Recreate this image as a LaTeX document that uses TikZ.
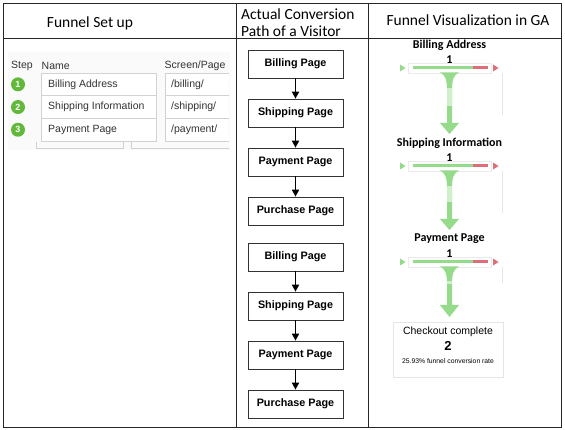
\documentclass[tikz,border=0pt]{standalone}
\usepackage{fontspec}
\setmainfont{Carlito}
\newfontfamily\rob{Liberation Sans}
\usetikzlibrary{arrows.meta}
\definecolor{fgreen}{HTML}{96DA8C}
\definecolor{flight}{HTML}{CFEFCA}
\definecolor{fred}{HTML}{DE6F78}
\definecolor{stepgreen}{HTML}{62B83A}
\definecolor{tblline}{HTML}{D2D2D2}
\begin{document}
\begin{tikzpicture}[x=1pt,y=-1pt,
  grid/.style={line width=0.8pt, draw=black!85},
  hdr/.style={font=\fontsize{15.5}{17}\selectfont, inner sep=0pt},
  pagebox/.style={draw=black!80, line width=0.7pt, minimum width=95pt, minimum height=28pt, inner sep=0pt, font=\rob\bfseries\fontsize{10.8}{12}\selectfont},
  flow/.style={-{Triangle[length=7pt,width=7pt]}, line width=1.7pt},
  tbltxt/.style={anchor=west, inner sep=0pt, font=\rob\fontsize{10.5}{12}\selectfont, text=black!80},
  cell/.style={draw=tblline, line width=0.6pt},
  stepdot/.style={circle, fill=stepgreen, minimum size=14pt, inner sep=0pt, text=white, font=\rob\bfseries\fontsize{9}{10}\selectfont},
  flab/.style={inner sep=0pt, font=\bfseries\fontsize{12}{14}\selectfont},
]
\useasboundingbox (0,0) rectangle (565,430);
\fill[white] (0,0) rectangle (565,430);

% ---- table grid
\draw[grid] (3,3) rectangle (561,427);
\draw[grid] (3,38) -- (561,38);
\draw[grid] (236,3) -- (236,427);
\draw[grid] (368,3) -- (368,427);

% ---- headers
\node[hdr] (h1) at (90,23) {Funnel Set up};
\node[hdr, anchor=west, align=left] (h2) at (241,22.5) {Actual Conversion\\Path of a Visitor};
\node[hdr] (h3) at (468,20) {Funnel Visualization in GA};

% ---- funnel set up table
\fill[black!2] (8,52) rectangle (230,150);
\node[tbltxt] (sthd) at (11,66) {Step};
\node[tbltxt] (nmhd) at (41.5,66) {Name};
\node[tbltxt] (pghd) at (164.5,66) {Screen/Page};
\foreach \i/\nm/\pg in {1/Billing Address/{/billing/}, 2/Shipping Information/{/shipping/}, 3/Payment Page/{/payment/}}{
  \pgfmathsetmacro{\top}{73+(\i-1)*22.7}
  \pgfmathsetmacro{\bot}{\top+22.7}
  \pgfmathsetmacro{\mid}{\top+11.35}
  \fill[white] (41,\top) rectangle (156,\bot);
  \fill[white] (165,\top) rectangle (229,\bot);
  \draw[cell] (41,\top) rectangle (156,\bot);
  \draw[cell] (229,\top) -- (165,\top) -- (165,\bot) -- (229,\bot);
  \node[stepdot] (dot\i) at (18,\mid) {\i};
  \node[tbltxt] (nm\i) at (48,\mid) {\nm};
  \node[tbltxt] (pg\i) at (171,\mid) {\pg};
}
\draw[cell] (36,142) -- (36,148) -- (123,148) -- (123,142);
\draw[cell] (131,142) -- (131,148) -- (229,148);

% ---- actual conversion path
\foreach \i/\y/\t in {1/64/Billing Page, 2/113/Shipping Page, 3/162/Payment Page, 4/211/Purchase Page,
                      5/257/Billing Page, 6/306/Shipping Page, 7/355/Payment Page, 8/404/Purchase Page}{
  \node[pagebox] (p\i) at (295.5,\y) {\t};
}
\draw[flow] (p1) -- (p2);
\draw[flow] (p2) -- (p3);
\draw[flow] (p3) -- (p4);
\draw[flow] (p5) -- (p6);
\draw[flow] (p6) -- (p7);
\draw[flow] (p7) -- (p8);

% ---- funnel visualization
\foreach \i/\lab/\ly/\by/\ls/\le/\hs/\tip/\ge in {
   1/Billing Address/45/68/88/106/123/134/115,
   2/Shipping Information/143/166/186/202/219/230/213,
   3/Payment Page/239/262/281/284/305/317/283}{
  \node[flab] (fl\i) at (449.5,\ly) {\lab};
  \node[flab] (fn\i) at (449.5,\ly+15) {1};
  \draw[black!10, line width=0.6pt] (502,\by+5) -- (502,\ge);
  \draw[black!8, line width=0.5pt, fill=white] (408,\by-5) rectangle (491,\by+5);
  \draw[fgreen, line width=3pt] (413,\by) -- (473,\by);
  \draw[fred, line width=3pt] (473,\by) -- (488,\by);
  \fill[fgreen] (400,\by-3.5) -- (405.5,\by) -- (400,\by+3.5) -- cycle;
  \fill[fred] (493,\by-3.5) -- (498.5,\by) -- (493,\by+3.5) -- cycle;
  \fill[fgreen] (440,\by+4.5) .. controls (445.5,\by+7) and (447,\by+12) .. (447,\by+22)
      -- (447,\hs) -- (440,\hs) -- (449.5,\tip) -- (459,\hs) -- (452,\hs) -- (452,\by+22)
      .. controls (452,\by+12) and (453.5,\by+7) .. (459,\by+4.5) -- cycle;
  \fill[flight] (447,\ls) rectangle (452,\le);
}
\node[draw=black!10, line width=0.6pt, minimum width=110pt, minimum height=55pt, inner sep=0pt] (chk) at (448,349.5) {};
\node[inner sep=0pt, font=\rob\fontsize{10.5}{12}\selectfont] (chk1) at (448,331.5) {Checkout complete};
\node[inner sep=0pt, font=\rob\bfseries\fontsize{13}{15}\selectfont] (chk2) at (448,345.5) {2};
\node[inner sep=0pt, font=\rob\fontsize{6.8}{8}\selectfont] (chk3) at (448,361) {25.93\% funnel conversion rate};
\end{tikzpicture}
\end{document}
